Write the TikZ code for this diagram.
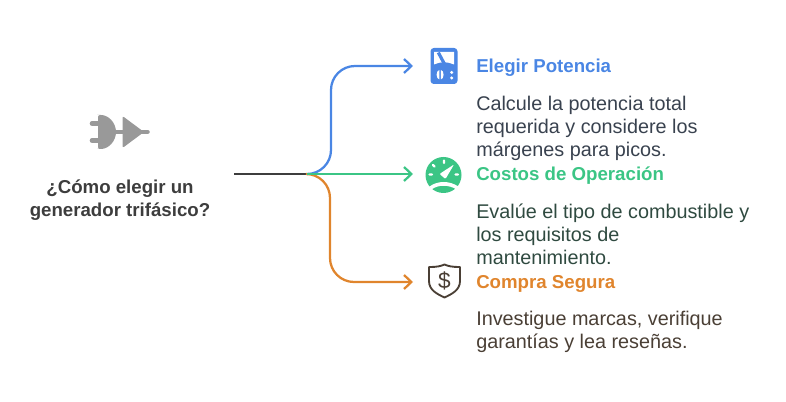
\documentclass[tikz,border=0pt]{standalone}
\usepackage{fontspec}
\setmainfont{Liberation Sans}
\usetikzlibrary{arrows.meta}
\usetikzlibrary{calc}

\definecolor{bluec}{HTML}{4A86E4}
\definecolor{greenc}{HTML}{3BC585}
\definecolor{orangec}{HTML}{E0852D}
\definecolor{plugc}{HTML}{999999}
\definecolor{titlec}{HTML}{3D3D3D}
\definecolor{bluetxt}{HTML}{39424F}
\definecolor{greentxt}{HTML}{2F4A40}
\definecolor{orangetxt}{HTML}{4A3F35}

\tikzset{
    title/.style={anchor=west, inner sep=0pt, font=\fontsize{14pt}{16pt}\selectfont\bfseries},
    body/.style={anchor=north west, inner sep=0pt, align=left, font=\fontsize{14.85pt}{17.4pt}\selectfont},
    link/.style={line width=1.7pt, -{Straight Barb[length=5.5pt,width=10.5pt,line width=1.7pt]}},
}

\begin{document}
\begin{tikzpicture}[x=0.75pt,y=-0.75pt]
    \useasboundingbox (0,0) rectangle (786,402);

    \node[inner sep=0pt, align=center, text=titlec, font=\fontsize{14pt}{17.3pt}\selectfont\bfseries] (question) at (120,200) {¿Cómo elegir un\\generador trifásico?};

    % plug
    \draw[plugc, line width=3.4pt, line cap=round] (92,123.5) -- (99,123.5) (92,140.5) -- (99,140.5);
    \draw[plugc, line width=2.4pt] (112,132) -- (125,132);
    \fill[plugc, rounded corners=1.5pt] (98,115) -- (99,115) arc (-90:90:17) -- (98,149) -- cycle;
    \fill[plugc, rounded corners=1.5pt] (122.5,116) -- (144,132) -- (122.5,148) -- cycle;
    \draw[plugc, line width=3.4pt, line cap=round] (140,132) -- (147.5,132);

    % connectors
    \coordinate (start) at (234,174);
    \coordinate (fork) at (307,174);
    \coordinate (potencia) at (413,66);
    \coordinate (costos) at (413,174);
    \coordinate (compra) at (413,282);

    \draw[titlec, line width=1.7pt] (start) -- (fork);
    \draw[link, bluec, rounded corners=18pt] (fork) -| (331,66) -- (potencia);
    \draw[link, orangec, rounded corners=18pt] (fork) -| (330,282) -- (compra);
    \draw[link, greenc] (fork) -- (costos);

    % meter icon
    \fill[bluec, rounded corners=2.5pt] (430.5,48) rectangle (457.5,84);
    \fill[white] (434,52) -- (454,52) -- (454,64.5) .. controls (448,61.5) and (440,61.5) .. (434,64.5) -- cycle;
    \draw[bluec, line width=2.4pt] (438.3,52.5) -- (445,65);
    \fill[white] (439.4,70) arc (-90:-270:2.8 and 4.7) -- cycle;
    \fill[white] (440.8,70) arc (-90:90:2.8 and 4.7) -- cycle;
    \fill[white] (451.7,72.5) circle (1.7) (451.7,78) circle (1.7);

    % gauge icon
    \fill[greenc] (443.5,175) circle (18);
    \fill[white, rounded corners=0.8pt] (454,164.5) -- (445.5,179) -- (439.5,174) -- cycle;
    \fill[white] (429.5,186.5) .. controls (438,180.5) and (449,180.5) .. (458.5,186.5) -- (456.5,189.5) .. controls (449,184.5) and (438,184.5) .. (431.5,189.5) -- cycle;
    \draw[white, line width=1.6pt, line cap=round] (444,160.5) -- (444,163) (433,165) -- (434.5,166.5) (429.5,174.5) -- (432,174.5) (455.5,174.5) -- (458,174.5);

    % shield icon
    \draw[orangetxt, line width=1.4pt, line join=round] (429,267) .. controls (438,267) and (441,266) .. (444.5,264.5) .. controls (448,266) and (451,267) .. (460,267) -- (460,281) .. controls (460,290) and (452,294) .. (444.5,297.5) .. controls (437,294) and (429,290) .. (429,281) -- cycle;
    \node[inner sep=0pt, text=orangetxt, font=\fontsize{17pt}{17pt}\selectfont] (dollar) at (444.5,280.5) {\$};

    % texts
    \node[title, text=bluec] (potenciat) at (476,68) {Elegir Potencia};
    \node[body, text=bluetxt] (potenciab) at (476,95.5) {Calcule la potencia total\\requerida y considere los\\márgenes para picos.};
    \node[title, text=greenc] (costost) at (476,176) {Costos de Operación};
    \node[body, text=greentxt] (costosb) at (476,203.5) {Evalúe el tipo de combustible y\\los requisitos de\\mantenimiento.};
    \node[title, text=orangec] (comprat) at (476,284) {Compra Segura};
    \node[body, text=orangetxt] (comprab) at (476,310.5) {Investigue marcas, verifique\\garantías y lea reseñas.};
\end{tikzpicture}
\end{document}
